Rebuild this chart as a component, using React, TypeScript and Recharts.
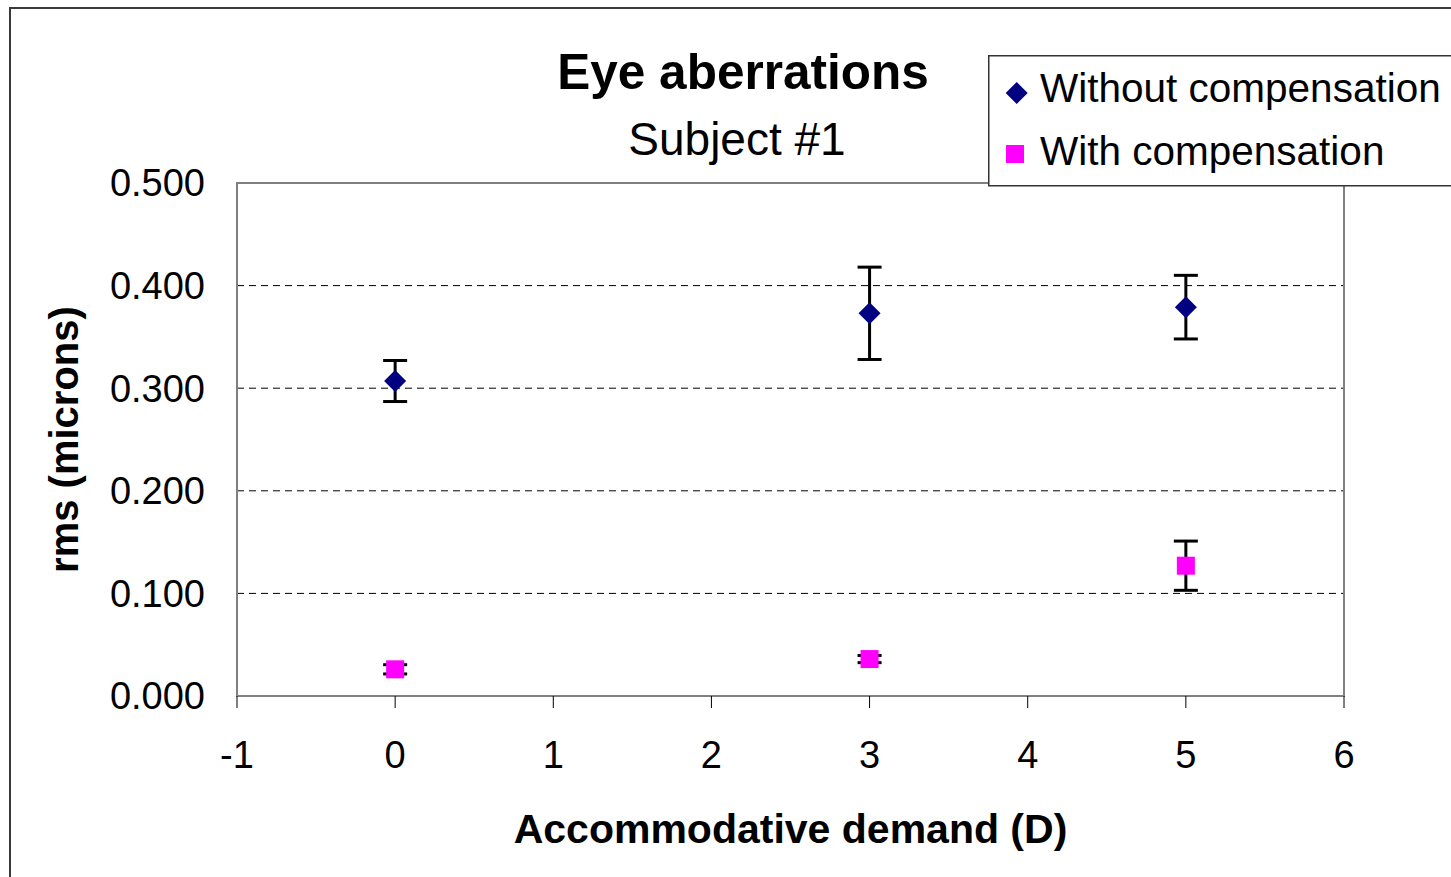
import React from 'react';
import {
  ScatterChart, Scatter, XAxis, YAxis, CartesianGrid, ErrorBar, Legend, ReferenceArea,
} from 'recharts';

const FONT = '"Liberation Sans", Arial, sans-serif';

// accommodative demand (D)
const demand = [0, 3, 5];
// rms (microns) and half error bar
const withoutRms = [0.307, 0.373, 0.379];
const withoutErr = [0.02, 0.045, 0.031];
const withRms = [0.026, 0.036, 0.127];
const withErr = [0.0045, 0.0035, 0.024];

const xTicks = [-1, 0, 1, 2, 3, 4, 5, 6];
const yTicks = [0, 0.1, 0.2, 0.3, 0.4, 0.5];

const withoutData = demand.map((x, i) => ({ x, y: withoutRms[i], err: withoutErr[i] }));
const withData = demand.map((x, i) => ({ x, y: withRms[i], err: withErr[i] }));

const Diamond = (props: any) => {
  const { cx, cy } = props;
  const r = 11;
  return <polygon points={`${cx},${cy - r} ${cx + r},${cy} ${cx},${cy + r} ${cx - r},${cy}`} fill="#000080" />;
};

const Square = (props: any) => {
  const { cx, cy } = props;
  return <rect x={cx - 9} y={cy - 9} width={18} height={18} fill="#FF00FF" />;
};

const LegendBox = () => (
  <svg width={470} height={132}>
    <rect x={0.75} y={0.75} width={480} height={130} fill="#fff" stroke="#333" strokeWidth={1.5} />
    <polygon points="28.7,27 39.7,38 28.7,49 17.7,38" fill="#000080" />
    <text x={52} y={46.7} fontFamily={FONT} fontSize={40.5} fill="#000">Without compensation</text>
    <rect x={18} y={90} width={18} height={18} fill="#FF00FF" />
    <text x={52} y={110} fontFamily={FONT} fontSize={40.5} fill="#000">With compensation</text>
  </svg>
);

export default function App() {
  return (
    <div style={{ position: 'fixed', left: 0, top: 0, width: 1451, height: 877, overflow: 'hidden', background: '#fff' }}>
      <div style={{ position: 'absolute', left: 9, top: 7, width: 1500, height: 950, border: '2px solid #3a3a3a', boxSizing: 'border-box' }} />
      <div style={{ position: 'absolute', left: 0, top: 0 }}>
        <ScatterChart width={1451} height={877} margin={{ top: 183, right: 107, bottom: 0, left: 0 }}>
          <CartesianGrid vertical={false} horizontalValues={[0.1, 0.2, 0.3, 0.4]} stroke="#000" strokeDasharray="7 5" />
          <XAxis
            type="number"
            dataKey="x"
            domain={[-1, 6]}
            ticks={xTicks}
            height={181}
            tickSize={12}
            tickMargin={33}
            tickLine={{ stroke: '#000', strokeWidth: 1 }}
            axisLine={{ stroke: '#808080', strokeWidth: 2 }}
            tick={{ fontFamily: FONT, fontSize: 38, fill: '#000' }}
            label={{
              content: ({ viewBox }: any) => (
                <text x={viewBox.x + viewBox.width / 2} y={843} textAnchor="middle" fontFamily={FONT} fontSize={41} fontWeight="bold" fill="#000">
                  Accommodative demand (D)
                </text>
              ),
            }}
          />
          <YAxis
            type="number"
            dataKey="y"
            domain={[0, 0.5]}
            ticks={yTicks}
            width={237}
            tickLine={false}
            tickSize={0}
            tickMargin={32}
            tickFormatter={(v: number) => v.toFixed(3)}
            axisLine={{ stroke: '#808080', strokeWidth: 2 }}
            tick={{ fontFamily: FONT, fontSize: 38, fill: '#000' }}
            label={{
              content: ({ viewBox }: any) => {
                const cy = viewBox.y + viewBox.height / 2;
                return (
                  <text x={78} y={cy} transform={`rotate(-90, 78, ${cy})`} textAnchor="middle" fontFamily={FONT} fontSize={40} fontWeight="bold" fill="#000">
                    rms (microns)
                  </text>
                );
              },
            }}
          />
          <ReferenceArea x1={-1} x2={6} y1={0} y2={0.5} fill="none" stroke="#808080" strokeWidth={2} />
          <Legend
            layout="horizontal"
            verticalAlign="middle"
            align="center"
            content={<LegendBox />}
            wrapperStyle={{ position: 'absolute', left: 988, top: 55, width: 470, height: 132 }}
          />
          <Scatter name="Without compensation" data={withoutData} shape={<Diamond />} isAnimationActive={false}>
            <ErrorBar dataKey="err" direction="y" width={12} stroke="#000" strokeWidth={3} />
          </Scatter>
          <Scatter name="With compensation" data={withData} shape={<Square />} isAnimationActive={false}>
            <ErrorBar dataKey="err" direction="y" width={12} stroke="#000" strokeWidth={3} />
          </Scatter>
        </ScatterChart>
      </div>
      <svg width={1451} height={877} style={{ position: 'absolute', left: 0, top: 0, pointerEvents: 'none' }}>
        <text x={743} y={89} textAnchor="middle" fontFamily={FONT} fontSize={49.5} fontWeight="bold" fill="#000">Eye aberrations</text>
        <text x={737} y={155} textAnchor="middle" fontFamily={FONT} fontSize={46} fill="#000">Subject #1</text>
      </svg>
    </div>
  );
}
